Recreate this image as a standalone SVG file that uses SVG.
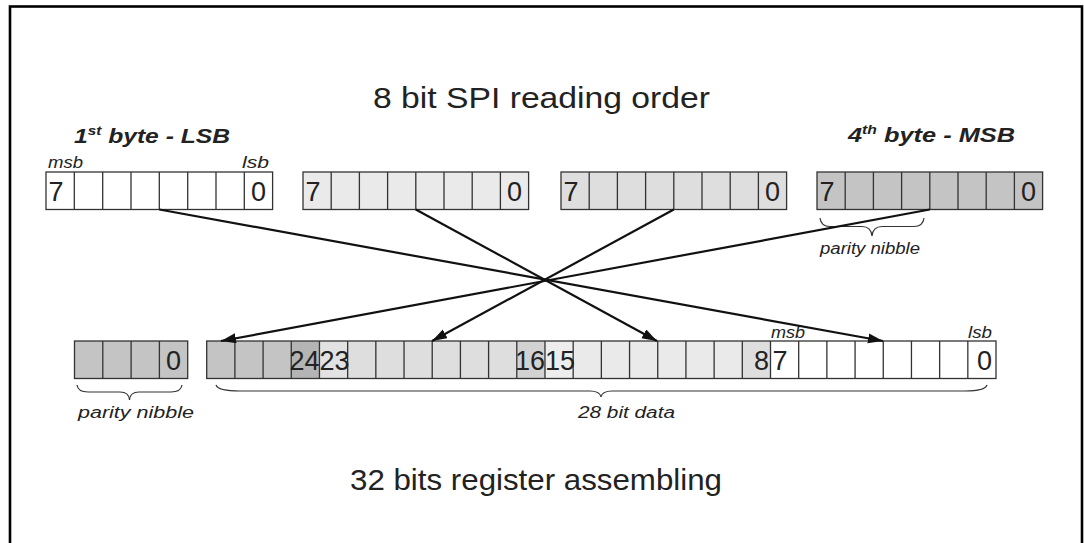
<svg xmlns="http://www.w3.org/2000/svg" width="1084" height="543" viewBox="0 0 1084 543">
<style>
.frame{fill:none;stroke:#000;stroke-width:2.6}
.cell{stroke:#333;stroke-width:1.3}
.div{stroke:#333;stroke-width:1.3;fill:none}
.dig{font-family:"Liberation Sans",Arial,sans-serif;font-size:27px;fill:#222}
.title{font-family:"Liberation Sans",Arial,sans-serif;font-size:29px;fill:#222}
.hdr{font-family:"Liberation Sans",Arial,sans-serif;font-size:21px;font-weight:bold;font-style:italic;fill:#222}
.sup{font-size:13px}
.small{font-family:"Liberation Sans",Arial,sans-serif;font-size:16px;font-style:italic;fill:#222}
.brace{fill:none;stroke:#333;stroke-width:1.2}
.conn{stroke:#111;stroke-width:2.2;fill:none}
</style>
<defs>
<marker id="arr" markerUnits="userSpaceOnUse" markerWidth="18" markerHeight="12" refX="15" refY="5" orient="auto">
<path d="M0,0 L15,5 L0,10 Z" fill="#111"/>
</marker>
</defs>
<rect class="frame" x="10" y="6.5" width="1072" height="545"/>

<text class="title" x="373" y="108" textLength="337" lengthAdjust="spacingAndGlyphs">8 bit SPI reading order</text>
<text class="title" x="350" y="490" textLength="372" lengthAdjust="spacingAndGlyphs">32 bits register assembling</text>

<g id="byte1">
<text class="hdr" x="74" y="143" textLength="156" lengthAdjust="spacingAndGlyphs">1<tspan class="sup" dy="-8">st</tspan><tspan dy="8"> byte - LSB</tspan></text>
<text class="small" x="48" y="168" textLength="35" lengthAdjust="spacingAndGlyphs">msb</text>
<text class="small" x="242" y="168" textLength="27" lengthAdjust="spacingAndGlyphs">lsb</text>
<rect class="cell" x="46" y="172" width="226.6" height="37.5" fill="#fff"/>
<path class="div" d="M74.3,172V209.5M102.7,172V209.5M131,172V209.5M159.3,172V209.5M187.7,172V209.5M216,172V209.5M244.3,172V209.5"/>
<text class="dig" x="48.5" y="201">7</text>
<text class="dig" x="266" y="201" text-anchor="end">0</text>
</g>

<g id="byte2">
<rect class="cell" x="303" y="172" width="225.6" height="37.5" fill="#eaeaea"/>
<path class="div" d="M331.2,172V209.5M359.4,172V209.5M387.6,172V209.5M415.8,172V209.5M444,172V209.5M472.2,172V209.5M500.4,172V209.5"/>
<text class="dig" x="305.5" y="201">7</text>
<text class="dig" x="522" y="201" text-anchor="end">0</text>
</g>

<g id="byte3">
<rect class="cell" x="561" y="172" width="225.6" height="37.5" fill="#dedede"/>
<path class="div" d="M589.2,172V209.5M617.4,172V209.5M645.6,172V209.5M673.8,172V209.5M702,172V209.5M730.2,172V209.5M758.4,172V209.5"/>
<text class="dig" x="563.5" y="201">7</text>
<text class="dig" x="780" y="201" text-anchor="end">0</text>
</g>

<g id="byte4">
<text class="hdr" x="848" y="142" textLength="167" lengthAdjust="spacingAndGlyphs">4<tspan class="sup" dy="-8">th</tspan><tspan dy="8"> byte - MSB</tspan></text>
<rect class="cell" x="817" y="172" width="225.6" height="37.5" fill="#c4c4c4"/>
<path class="div" d="M845.2,172V209.5M873.4,172V209.5M901.6,172V209.5M929.8,172V209.5M958,172V209.5M986.2,172V209.5M1014.4,172V209.5"/>
<text class="dig" x="819.5" y="201">7</text>
<text class="dig" x="1036" y="201" text-anchor="end">0</text>
<path class="brace" d="M820,218 Q821,226.5 830,226.5 L862,226.5 Q871,226.5 872,236 Q873,226.5 882,226.5 L914,226.5 Q923,226.5 924,218"/>
<text class="small" x="820" y="254" textLength="100" lengthAdjust="spacingAndGlyphs">parity nibble</text>
</g>

<g id="parity">
<rect class="cell" x="74.5" y="341" width="113.2" height="37.5" fill="#c4c4c4"/>
<path class="div" d="M102.8,341V378.5M131.1,341V378.5M159.4,341V378.5"/>
<text class="dig" x="181" y="370" text-anchor="end">0</text>
<path class="brace" d="M77,385 Q78,392 88,392 L120,392 Q129,392 129.5,400 Q130,392 139,392 L171,392 Q181,392 182,385"/>
<text class="small" x="78" y="418" textLength="116" lengthAdjust="spacingAndGlyphs">parity nibble</text>
</g>

<g id="data">
<rect x="206.7" y="341" width="84.57" height="37.5" fill="#c4c4c4"/>
<rect x="291.27" y="341" width="28.19" height="37.5" fill="#b4b4b4"/>
<rect x="319.46" y="341" width="28.19" height="37.5" fill="#e2e2e2"/>
<rect x="347.65" y="341" width="169.14" height="37.5" fill="#dedede"/>
<rect x="516.79" y="341" width="28.19" height="37.5" fill="#d2d2d2"/>
<rect x="544.98" y="341" width="28.19" height="37.5" fill="#ededed"/>
<rect x="573.17" y="341" width="169.14" height="37.5" fill="#eaeaea"/>
<rect x="742.31" y="341" width="28.19" height="37.5" fill="#dedede"/>
<rect x="770.5" y="341" width="225.5" height="37.5" fill="#fff"/>
<rect x="206.7" y="341" width="789.3" height="37.5" fill="none" stroke="#333" stroke-width="1.3"/>
<path class="div" d="M234.89,341V378.5M263.08,341V378.5M291.27,341V378.5M319.46,341V378.5M347.65,341V378.5M375.84,341V378.5M404.03,341V378.5M432.22,341V378.5M460.41,341V378.5M488.6,341V378.5M516.79,341V378.5M544.98,341V378.5M573.17,341V378.5M601.36,341V378.5M629.55,341V378.5M657.74,341V378.5M685.93,341V378.5M714.12,341V378.5M742.31,341V378.5M770.5,341V378.5M798.69,341V378.5M826.88,341V378.5M855.07,341V378.5M883.26,341V378.5M911.45,341V378.5M939.64,341V378.5M967.83,341V378.5"/>
<text class="dig" x="319.5" y="370" text-anchor="end">24</text>
<text class="dig" x="319.5" y="370">23</text>
<text class="dig" x="545" y="370" text-anchor="end">16</text>
<text class="dig" x="545" y="370">15</text>
<text class="dig" x="769" y="370" text-anchor="end">8</text>
<text class="dig" x="772.5" y="370">7</text>
<text class="dig" x="992" y="370" text-anchor="end">0</text>
<text class="small" x="771" y="338" textLength="34" lengthAdjust="spacingAndGlyphs">msb</text>
<text class="small" x="968" y="338" textLength="24" lengthAdjust="spacingAndGlyphs">lsb</text>
<path class="brace" d="M216,385 Q218,391 240,391 L590,391 Q600,391 601,397 Q602,391 612,391 L965,391 Q985,391 987,385"/>
<text class="small" x="578" y="418" textLength="97" lengthAdjust="spacingAndGlyphs">28 bit data</text>
</g>

<g id="connectors">
<line class="conn" x1="159.3" y1="209.5" x2="883" y2="341" marker-end="url(#arr)"/>
<line class="conn" x1="415.8" y1="209.5" x2="657" y2="341" marker-end="url(#arr)"/>
<line class="conn" x1="673.8" y1="209.5" x2="432" y2="341" marker-end="url(#arr)"/>
<line class="conn" x1="929.8" y1="209.5" x2="221" y2="341" marker-end="url(#arr)"/>
</g>
</svg>
